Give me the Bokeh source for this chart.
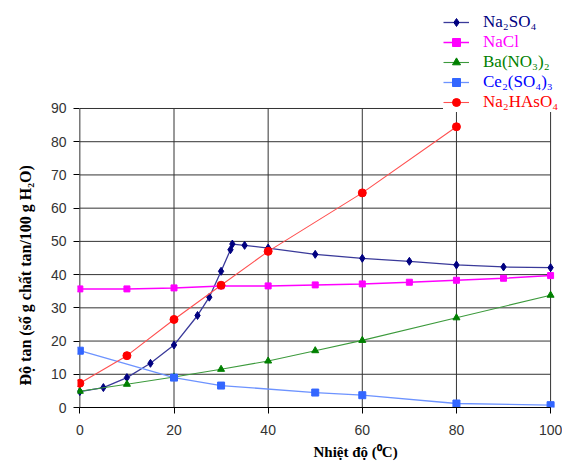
from bokeh.plotting import figure
from bokeh.models import Legend, LegendItem, Title, FixedTicker, Range1d
from bokeh.embed import file_html
from bokeh.resources import INLINE

# ---- data ----
na2so4_t = [0, 5, 10, 15, 20, 25, 27.5, 30, 32, 32.4, 35, 40, 50, 60, 70, 80, 90, 100]
na2so4_s = [4.8, 6.0, 9.0, 13.3, 18.8, 27.7, 33.2, 41.0, 47.5, 49.2, 48.8, 48.0, 46.1, 44.9, 44.0, 42.9, 42.3, 42.1]

nacl_t = [0, 10, 20, 30, 40, 50, 60, 70, 80, 90, 100]
nacl_s = [35.7, 35.7, 36.0, 36.6, 36.6, 36.9, 37.2, 37.7, 38.3, 38.9, 39.7]

bano3_t = [0, 10, 20, 30, 40, 50, 60, 80, 100]
bano3_s = [4.9, 7.0, 9.2, 11.5, 14.0, 17.1, 20.2, 27.0, 33.8]

ce_t = [0, 20, 30, 50, 60, 80, 100]
ce_s = [17.1, 9.0, 6.6, 4.5, 3.7, 1.2, 0.7]

hasm_t = [0, 10, 20, 30, 40, 60, 80]
hasm_s = [7.3, 15.6, 26.5, 36.8, 47.0, 64.6, 84.5]

x_ticks = [0, 20, 40, 60, 80, 100]
y_ticks = [0, 10, 20, 30, 40, 50, 60, 70, 80, 90]
x_min, x_max = 0, 100
y_max = 90

labels = ["Na₂SO₄", "NaCl", "Ba(NO₃)₂", "Ce₂(SO₄)₃", "Na₂HAsO₄"]
x_title = "Nhiệt độ (⁰C)"
y_title = "Độ tan (số g chất tan/100 g H₂O)"

# the frame is larger than the 0..100 x 0..90 grid so the legend fits above/right of it
p = figure(width=562, height=464, output_backend="svg", toolbar_location=None,
           title=None, x_range=Range1d(-0.5, 102.53), y_range=Range1d(0, 121.3),
           min_border_left=76, min_border_right=0, min_border_top=4,
           min_border_bottom=57)
p.outline_line_color = None
p.background_fill_color = "white"

grid_col = "#333333"
p.xgrid.visible = False
p.ygrid.visible = False
p.segment(x0=x_ticks, y0=[0] * len(x_ticks), x1=x_ticks, y1=[y_max] * len(x_ticks),
          line_color=grid_col, line_width=1)
p.segment(x0=[x_min] * len(y_ticks), y0=y_ticks, x1=[x_max] * len(y_ticks), y1=y_ticks,
          line_color=grid_col, line_width=1)

p.xaxis.ticker = FixedTicker(ticks=x_ticks)
p.yaxis.ticker = FixedTicker(ticks=y_ticks)
p.xaxis.bounds = (x_min, x_max)
for ax in (p.xaxis, p.yaxis):
    ax.minor_tick_line_color = None
    ax.major_tick_line_color = "black"
    ax.major_label_text_font = "Liberation Sans"
    ax.major_label_text_font_size = "14px"
    ax.major_label_text_color = "#333333"
p.xaxis.major_label_standoff = 11
p.yaxis.major_label_standoff = 7
p.xaxis.axis_line_color = "black"
p.xaxis.major_tick_in = 0
p.xaxis.major_tick_out = 6
p.yaxis.axis_line_color = None
p.yaxis.major_tick_in = 2
p.yaxis.major_tick_out = 4

p.add_layout(Title(text=y_title, align="left", offset=22,
                   text_font="Liberation Serif", text_font_size="16px",
                   text_font_style="bold", text_color="black", standoff=28), "left")
p.add_layout(Title(text=x_title, align="left", offset=236,
                   text_font="Liberation Serif", text_font_size="15px",
                   text_font_style="bold", text_color="black", standoff=9), "below")

series = [
    (na2so4_t, na2so4_s, "#3A3A9A", "#000080", "diamond", 8, 1.3),
    (nacl_t, nacl_s, "#FF00FF", "#FF00FF", "square", 6, 1.5),
    (bano3_t, bano3_s, "#3C9A3C", "#008000", "triangle", 7, 1.1),
    (ce_t, ce_s, "#6D93FF", "#3366FF", "square", 7, 1.3),
    (hasm_t, hasm_s, "#FF5050", "#FF0000", "circle", 8, 1.1),
]
text_colors = ["#000080", "#FF00FF", "#008000", "#0000FF", "#FF0000"]

rend = []
for xs, ys, lc, mc, mk, sz, lw in series:
    l = p.line(xs, ys, line_color=lc, line_width=lw)
    s = p.scatter(xs, ys, marker=mk, size=sz, fill_color=mc, line_color=mc)
    rend.append([l, s])

for i in range(5):
    leg = Legend(items=[LegendItem(label=labels[i], renderers=rend[i])],
                 location=(366, 375 - 20 * i), orientation="vertical",
                 padding=0, margin=0, spacing=0,
                 border_line_color=None,
                 background_fill_color="white", background_fill_alpha=1.0 if i == 4 else 0.0,
                 glyph_width=26, glyph_height=20, label_height=20,
                 label_standoff=14, label_text_font="Liberation Serif",
                 label_text_font_size="17px", label_text_color=text_colors[i])
    p.add_layout(leg, "center")

open("out.html", "w").write(file_html(p, INLINE))
